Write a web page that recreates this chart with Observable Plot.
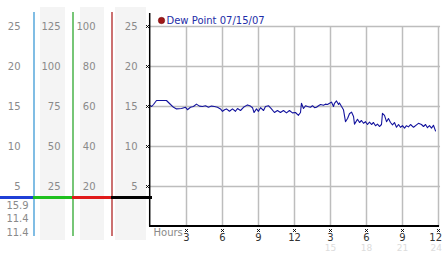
<!DOCTYPE html>
<html><head><meta charset="utf-8">
<script src="https://cdn.jsdelivr.net/npm/d3@7"></script>
<script src="https://cdn.jsdelivr.net/npm/@observablehq/plot@0.6"></script>
<style>
html,body{margin:0;padding:0;background:#fff;}
#wrap{position:relative;width:442px;height:253px;overflow:hidden;background:#fff;}
#wrap svg{position:absolute;left:0;top:0;background:transparent !important;}
</style></head><body><div id="wrap"></div>
<script>
// ---- data ----
const hours = [0.00,0.10,0.25,0.50,0.90,1.33,1.67,1.92,2.17,2.58,2.92,3.08,3.33,3.58,3.83,4.08,4.33,4.58,4.83,5.08,5.33,5.58,5.83,6.00,6.17,6.33,6.58,6.83,7.08,7.25,7.50,7.75,8.08,8.33,8.50,8.63,8.83,9.00,9.17,9.42,9.58,9.83,10.08,10.33,10.58,10.83,11.08,11.33,11.58,11.83,12.08,12.33,12.50,12.58,12.75,12.92,13.08,13.33,13.50,13.67,13.83,14.00,14.17,14.42,14.58,14.75,14.92,15.08,15.25,15.33,15.50,15.67,15.75,15.92,16.08,16.25,16.42,16.58,16.75,16.92,17.00,17.25,17.42,17.58,17.75,17.92,18.08,18.25,18.42,18.58,18.75,18.92,19.08,19.25,19.33,19.50,19.67,19.83,20.00,20.17,20.33,20.50,20.67,20.83,21.00,21.17,21.33,21.50,21.67,21.92,22.17,22.33,22.58,22.75,22.92,23.08,23.25,23.42,23.58,23.75];
const dewPoint = [15.1,15.0,15.25,15.75,15.75,15.75,15.25,14.9,14.7,14.75,14.9,14.6,14.9,15.0,15.3,15.05,15.0,15.1,14.9,15.05,15.0,14.9,14.7,14.4,14.6,14.7,14.4,14.7,14.4,14.75,14.5,14.9,15.2,15.05,14.85,14.25,14.7,14.4,14.85,14.5,15.0,15.1,14.7,14.25,14.5,14.25,14.5,14.2,14.5,14.2,14.25,13.9,14.25,15.4,14.75,15.1,15.0,14.9,15.1,14.85,14.9,15.1,15.25,15.15,15.3,15.25,15.4,15.55,15.0,15.4,15.7,15.25,15.45,15.0,14.6,13.1,13.5,14.1,14.3,13.75,12.8,13.4,13.0,13.25,12.9,13.1,12.75,13.05,12.75,13.0,12.6,12.8,12.5,12.75,14.15,13.9,13.1,13.5,13.0,12.7,13.0,12.4,12.75,12.4,12.6,12.3,12.6,12.45,12.75,12.4,12.7,12.9,12.75,12.5,12.75,12.35,12.6,12.3,12.65,11.95];
const yTicks = [5,10,15,20,25];
const col2Labels = [25,50,75,100,125];
const col3Labels = [20,40,60,80,100];
const statValues = ["15.9","11.4","11.4"];
const xTickHours = [3,6,9,12,15,18,21,24];
const xTickLabels = ["3","6","9","12","3","6","9","12"];
const xSubHours = [15,18,21,24];
const xSubLabels = ["15","18","21","24"];
const legendLabel = "Dew Point 07/15/07";
const xAxisLabel = "Hours";

// ---- layout / style ----
const FONT = "DejaVu Sans";
const W = 442, H = 253;
const M = {top: 13, bottom: 27, left: 150, right: 4};
const yDomain = [0, 26.625];
const gray = "#8a8a8a";

const rows = hours.map((h, i) => ({h, v: dewPoint[i]}));
const lastIdx = xTickHours.length - 1;
const lastSub = xSubHours.length - 1;

const main = Plot.plot({
  width: W, height: H,
  marginTop: M.top, marginBottom: M.bottom, marginLeft: M.left, marginRight: M.right,
  x: {domain: [0, 24], axis: null},
  y: {domain: yDomain, axis: null},
  style: {fontFamily: FONT, fontSize: "10px", background: "transparent"},
  marks: [
    Plot.ruleY(yTicks, {y: d => d, x1: 0, x2: 24.17, stroke: "#bdbdbd", strokeWidth: 1.5}),
    Plot.ruleX(xTickHours, {x: d => d, y1: 0, y2: 25, stroke: "#bdbdbd", strokeWidth: 1.5}),
    Plot.line(rows, {x: "h", y: "v", stroke: "#14149e", strokeWidth: 1.1}),
    Plot.ruleX([0], {x: d => d, y1: 0, y2: yDomain[1], stroke: "#000", strokeWidth: 1.5, dx: -0.8}),
    Plot.ruleY([0], {y: d => d, x1: 0, x2: 24.17, stroke: "#000", strokeWidth: 2, dx: -1, dy: -0.5}),
    Plot.dot(yTicks, {x: 0, y: d => d, symbol: "times", r: 1.4, stroke: "#000", strokeWidth: 1, dx: -3}),
    Plot.dot(xTickHours, {x: d => d, y: 0, symbol: "times", r: 1.4, stroke: "#000", strokeWidth: 1, dy: 4}),
    Plot.text(xTickHours, {filter: (d, i) => i < lastIdx, x: d => d, y: 0, text: (d, i) => xTickLabels[i], dy: 11.5, fill: "#333", fontSize: 10}),
    Plot.text([xTickHours[lastIdx]], {x: d => d, y: 0, text: () => xTickLabels[lastIdx], dy: 11.5, dx: 3.5, textAnchor: "end", fill: "#333", fontSize: 10}),
    Plot.text(xSubHours, {filter: (d, i) => i < lastSub, x: d => d, y: 0, text: (d, i) => xSubLabels[i], dy: 21.5, fill: "#dcdcdc", fontSize: 9}),
    Plot.text([xSubHours[lastSub]], {x: d => d, y: 0, text: () => xSubLabels[lastSub], dy: 21.5, dx: 3.5, textAnchor: "end", fill: "#dcdcdc", fontSize: 9}),
    Plot.text([xAxisLabel], {x: 0, y: 0, text: d => d, textAnchor: "start", dx: 3, dy: 6, fill: gray, fontSize: 10}),
    Plot.dot([legendLabel], {frameAnchor: "top-left", dx: 11, dy: 7, r: 3.2, fill: "#a01818", stroke: "#600", strokeWidth: 0.5}),
    Plot.text([legendLabel], {frameAnchor: "top-left", text: d => d, dx: 16, dy: 7, lineAnchor: "middle", textAnchor: "start", fill: "#1e2ea8", fontSize: 10})
  ]
});

const yS = main.scale("y");
const yv = px => yS.invert(px);

const cols = [
  {labels: yTicks, labelX: 20, bg: null, x0: 0, line: 33, lineColor: "#3d9ad6", barColor: "#1f3fd6"},
  {labels: col2Labels, labelX: 60, bg: [40, 65], x0: 33, line: 72, lineColor: "#2ea82e", barColor: "#1fc01f"},
  {labels: col3Labels, labelX: 95, bg: [80, 104], x0: 72, line: 111, lineColor: "#b02525", barColor: "#e01a1a"},
  {labels: yTicks, labelX: 137, bg: [115, 146], x0: 111, line: null, lineColor: null, barColor: "#000", x1: 152}
];

const labelRows = cols.flatMap(c => yTicks.map((t, i) => ({x: c.labelX, y: t, text: String(c.labels[i])})));
const bgs = cols.filter(c => c.bg);
const lines = cols.filter(c => c.line != null);

const left = Plot.plot({
  width: 153, height: H,
  marginTop: M.top, marginBottom: M.bottom, marginLeft: 0, marginRight: 0,
  x: {type: "identity", axis: null},
  y: {domain: yDomain, axis: null},
  style: {fontFamily: FONT, fontSize: "10px", background: "transparent"},
  marks: [
    Plot.rect(bgs, {x1: d => d.bg[0], x2: d => d.bg[1], y1: yv(240), y2: yv(7), fill: "#f4f4f4"}),
    Plot.ruleX(lines, {x: d => d.line + 0.5, y1: yv(236), y2: yv(12), stroke: d => d.lineColor, strokeWidth: 1.3}),
    Plot.ruleY(cols, {y: yv(197), x1: d => d.x0, x2: d => d.line ?? d.x1, stroke: d => d.barColor, strokeWidth: 3}),
    Plot.text(labelRows, {x: "x", y: "y", text: "text", textAnchor: "end", fill: gray, fontSize: 10}),
    Plot.text(statValues, {x: 17, y: (d, i) => yv(205 + i * 13.5), text: d => d, fill: gray, fontSize: 10})
  ]
});

const wrap = document.getElementById("wrap");
wrap.appendChild(main);
wrap.appendChild(left);
</script>
</body></html>
